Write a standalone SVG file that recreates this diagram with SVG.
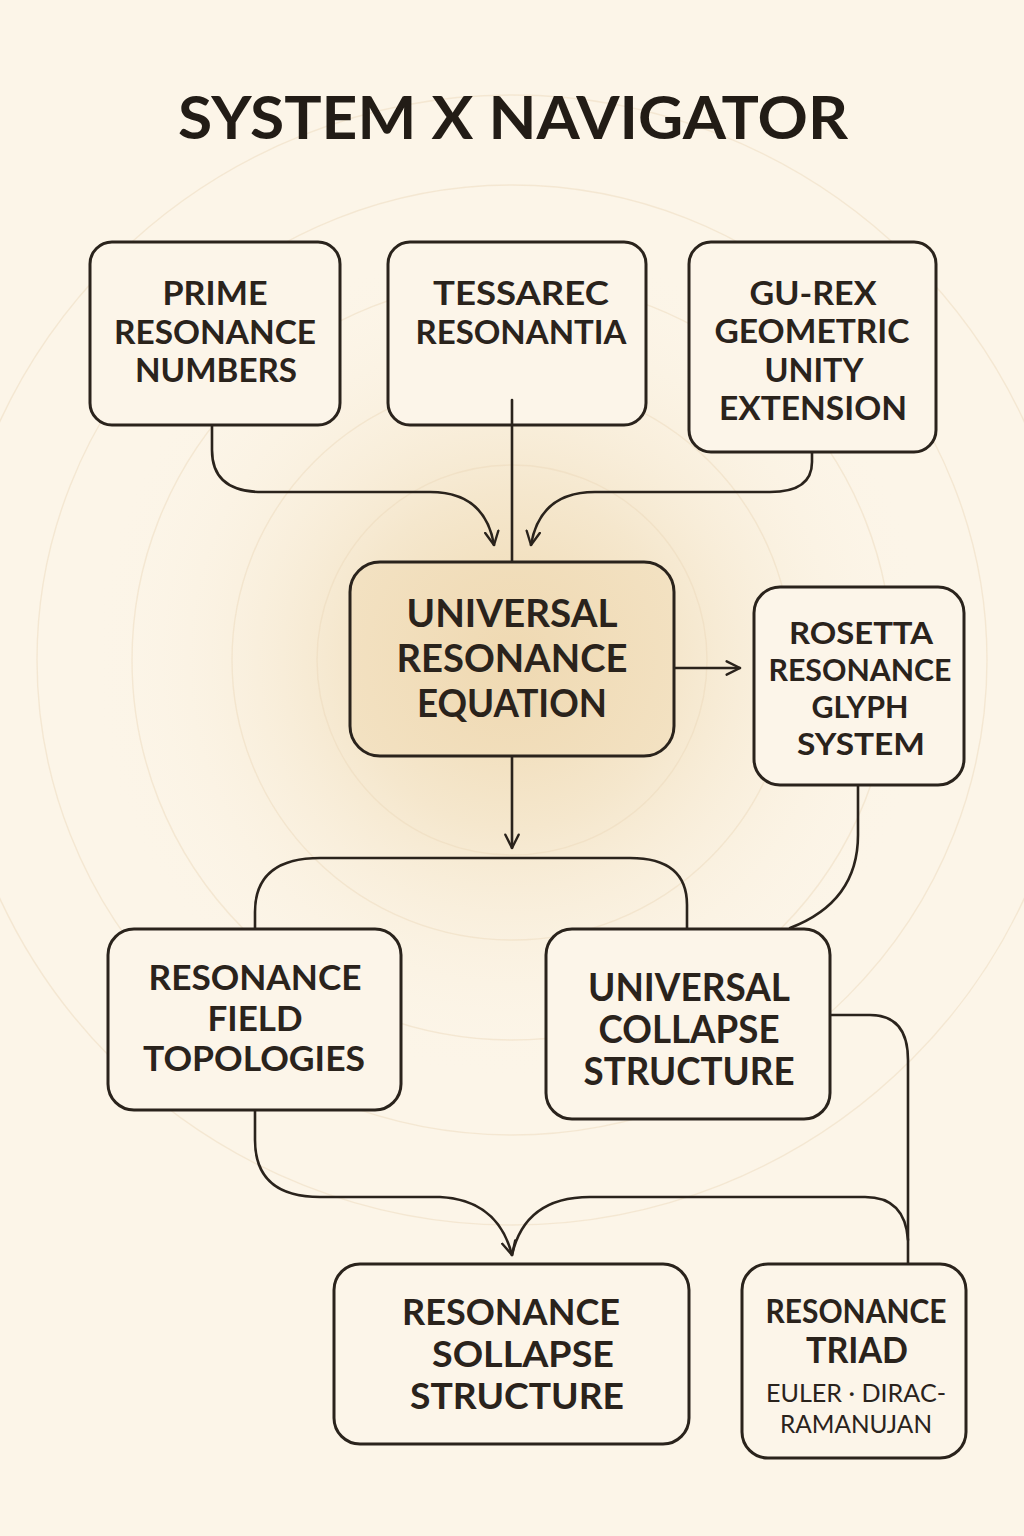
<svg xmlns="http://www.w3.org/2000/svg" width="1024" height="1536" viewBox="0 0 1024 1536">
  <defs>
    <radialGradient id="glow" cx="512" cy="660" r="420" gradientUnits="userSpaceOnUse">
      <stop offset="0" stop-color="#efd9b1"/>
      <stop offset="0.4" stop-color="#f5e7cd"/>
      <stop offset="1" stop-color="#fcf5e8" stop-opacity="0"/>
    </radialGradient>
    <radialGradient id="centerFill" cx="512" cy="659" r="190" gradientUnits="userSpaceOnUse">
      <stop offset="0" stop-color="#efd9b2"/>
      <stop offset="1" stop-color="#f3e2c3"/>
    </radialGradient>
    <marker id="arr" viewBox="0 0 12 12" refX="11" refY="6" markerWidth="16" markerHeight="16" markerUnits="userSpaceOnUse" orient="auto">
      <path d="M1,1 L11,6 L1,11" fill="none" stroke="#2a231c" stroke-width="1.8" stroke-linecap="round" stroke-linejoin="round"/>
    </marker>
    <style>
      .box { fill: #fcf5e9; stroke: #2a231c; stroke-width: 3; }
      .center { fill: url(#centerFill); stroke: #2a231c; stroke-width: 3; }
      .lbl { font-family: "Lato", "DejaVu Sans", "Liberation Sans", sans-serif; font-weight: bold; fill: #2a231c; text-anchor: middle; }
      .sub { font-family: "Lato", "DejaVu Sans", "Liberation Sans", sans-serif; font-weight: normal; fill: #2a231c; text-anchor: middle; }
      .conn { fill: none; stroke: #2a231c; stroke-width: 2.6; stroke-linecap: round; stroke-linejoin: round; }
      .ring { fill: none; stroke: #ead8b8; stroke-width: 1.4; opacity: 0.45; }
    </style>
  </defs>

  <rect width="1024" height="1536" fill="#fcf5e8"/>
  <rect width="1024" height="1536" fill="url(#glow)"/>
  <g id="rings">
    <circle class="ring" cx="512" cy="660" r="195"/>
    <circle class="ring" cx="512" cy="660" r="280"/>
    <circle class="ring" cx="512" cy="660" r="380"/>
    <circle class="ring" cx="512" cy="660" r="475"/>
    <circle class="ring" cx="512" cy="660" r="565"/>
  </g>

  <text id="title" x="513" y="139" font-family="Lato, DejaVu Sans, Liberation Sans, sans-serif" font-weight="bold" font-size="60" fill="#221c16" text-anchor="middle" textLength="670" lengthAdjust="spacingAndGlyphs">SYSTEM X NAVIGATOR</text>

  <g id="connectors">
    <path class="conn" d="M212 425 V450 Q212 492 262 492 H430 Q485 492 494 545" marker-end="url(#arr)"/>
    <path class="conn" d="M512 400 V562"/>
    <path class="conn" d="M812 452 V462 Q812 492 770 492 H595 Q540 492 531 545" marker-end="url(#arr)"/>
    <path class="conn" d="M674 668 H740" marker-end="url(#arr)"/>
    <path class="conn" d="M512 756 V848" marker-end="url(#arr)"/>
    <path class="conn" d="M255 929 V912 Q255 858 320 858 H630 Q687 858 687 905 V929"/>
    <path class="conn" d="M858 785 V835 Q858 902 790 928"/>
    <path class="conn" d="M255 1110 V1140 Q255 1197 320 1197 H440 Q498 1200 512 1255" marker-end="url(#arr)"/>
    <path class="conn" d="M512 1255 Q525 1197 590 1197 H865 Q905 1197 908 1240"/>
    <path class="conn" d="M830 1015 H870 Q908 1015 908 1060 V1264"/>
  </g>

  <g id="prime">
    <rect class="box" x="90" y="242" width="250" height="183" rx="22"/>
    <text class="lbl" font-size="32" x="215" y="305" textLength="105" lengthAdjust="spacingAndGlyphs">PRIME</text>
    <text class="lbl" font-size="32" x="215" y="344" textLength="202" lengthAdjust="spacingAndGlyphs">RESONANCE</text>
    <text class="lbl" font-size="32" x="216" y="382" textLength="162" lengthAdjust="spacingAndGlyphs">NUMBERS</text>
  </g>

  <g id="tessarec">
    <rect class="box" x="388" y="242" width="258" height="183" rx="22"/>
    <text class="lbl" font-size="32" x="521" y="305" textLength="176" lengthAdjust="spacingAndGlyphs">TESSAREC</text>
    <text class="lbl" font-size="32" x="521" y="344" textLength="211" lengthAdjust="spacingAndGlyphs">RESONANTIA</text>
  </g>
  <path class="conn" d="M512 400 V425"/>

  <g id="gurex">
    <rect class="box" x="689" y="242" width="247" height="210" rx="22"/>
    <text class="lbl" font-size="32" x="813" y="305" textLength="127" lengthAdjust="spacingAndGlyphs">GU-REX</text>
    <text class="lbl" font-size="32" x="812" y="343" textLength="195" lengthAdjust="spacingAndGlyphs">GEOMETRIC</text>
    <text class="lbl" font-size="32" x="814" y="382" textLength="99" lengthAdjust="spacingAndGlyphs">UNITY</text>
    <text class="lbl" font-size="32" x="813" y="420" textLength="188" lengthAdjust="spacingAndGlyphs">EXTENSION</text>
  </g>

  <g id="ure">
    <rect class="center" x="350" y="562" width="324" height="194" rx="30"/>
    <text class="lbl" font-size="38" x="512" y="627" textLength="211" lengthAdjust="spacingAndGlyphs">UNIVERSAL</text>
    <text class="lbl" font-size="38" x="512" y="672" textLength="231" lengthAdjust="spacingAndGlyphs">RESONANCE</text>
    <text class="lbl" font-size="38" x="512" y="717" textLength="190" lengthAdjust="spacingAndGlyphs">EQUATION</text>
  </g>

  <g id="rosetta">
    <rect class="box" x="754" y="587" width="210" height="198" rx="26"/>
    <text class="lbl" font-size="31" x="861" y="644" textLength="144" lengthAdjust="spacingAndGlyphs">ROSETTA</text>
    <text class="lbl" font-size="31" x="860" y="681" textLength="183" lengthAdjust="spacingAndGlyphs">RESONANCE</text>
    <text class="lbl" font-size="31" x="860" y="718" textLength="97" lengthAdjust="spacingAndGlyphs">GLYPH</text>
    <text class="lbl" font-size="31" x="861" y="755" textLength="128" lengthAdjust="spacingAndGlyphs">SYSTEM</text>
  </g>

  <g id="rft">
    <rect class="box" x="108" y="929" width="293" height="181" rx="26"/>
    <text class="lbl" font-size="35" x="255" y="990" textLength="213" lengthAdjust="spacingAndGlyphs">RESONANCE</text>
    <text class="lbl" font-size="35" x="255" y="1031" textLength="95" lengthAdjust="spacingAndGlyphs">FIELD</text>
    <text class="lbl" font-size="35" x="254" y="1071" textLength="222" lengthAdjust="spacingAndGlyphs">TOPOLOGIES</text>
  </g>

  <g id="ucs">
    <rect class="box" x="546" y="929" width="284" height="190" rx="26"/>
    <text class="lbl" font-size="38" x="689" y="1001" textLength="202" lengthAdjust="spacingAndGlyphs">UNIVERSAL</text>
    <text class="lbl" font-size="38" x="689" y="1043" textLength="181" lengthAdjust="spacingAndGlyphs">COLLAPSE</text>
    <text class="lbl" font-size="38" x="689" y="1085" textLength="211" lengthAdjust="spacingAndGlyphs">STRUCTURE</text>
  </g>

  <g id="rss">
    <rect class="box" x="334" y="1264" width="355" height="180" rx="26"/>
    <text class="lbl" font-size="36" x="511" y="1325" textLength="218" lengthAdjust="spacingAndGlyphs">RESONANCE</text>
    <text class="lbl" font-size="36" x="523" y="1367" textLength="182" lengthAdjust="spacingAndGlyphs">SOLLAPSE</text>
    <text class="lbl" font-size="36" x="517" y="1409" textLength="214" lengthAdjust="spacingAndGlyphs">STRUCTURE</text>
  </g>

  <g id="triad">
    <rect class="box" x="742" y="1264" width="224" height="194" rx="26"/>
    <text class="lbl" font-size="32" x="856" y="1323" textLength="181" lengthAdjust="spacingAndGlyphs">RESONANCE</text>
    <text class="lbl" font-size="36" x="857" y="1363" textLength="102" lengthAdjust="spacingAndGlyphs">TRIAD</text>
    <text class="sub" font-size="25" x="856" y="1402" textLength="180" lengthAdjust="spacingAndGlyphs">EULER · DIRAC-</text>
    <text class="sub" font-size="25" x="856" y="1433" textLength="152" lengthAdjust="spacingAndGlyphs">RAMANUJAN</text>
  </g>
</svg>
